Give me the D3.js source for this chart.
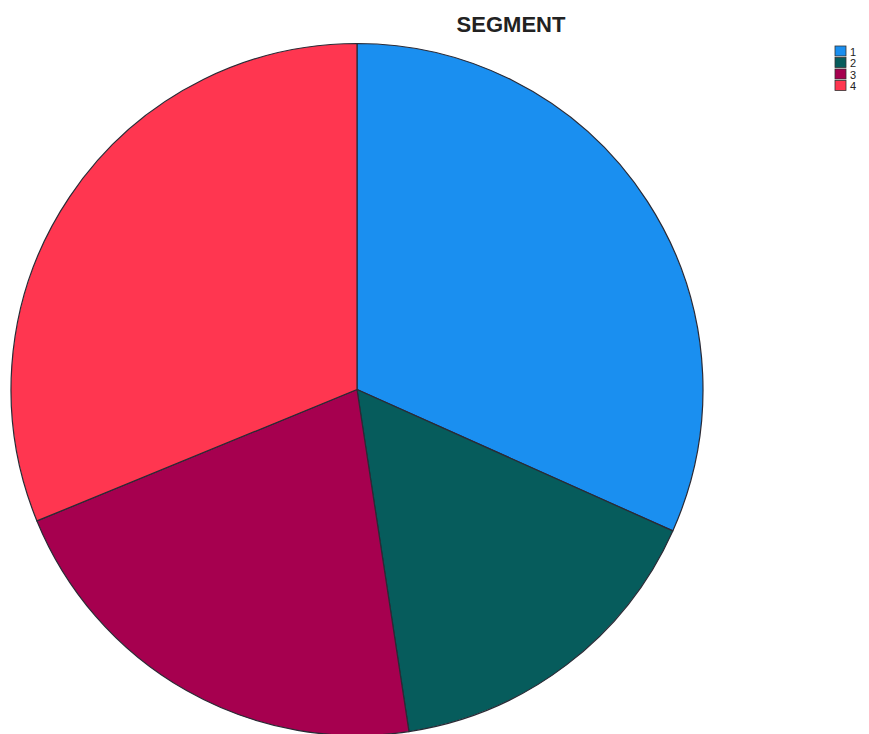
<!DOCTYPE html>
<html>
<head>
<meta charset="utf-8">
<script src="https://cdn.jsdelivr.net/npm/d3@7/dist/d3.min.js"></script>
<style>
  html, body { margin: 0; padding: 0; background: #fff; }
  svg { display: block; }
</style>
</head>
<body>
<svg id="chart" width="869" height="734"></svg>
<script>
// Segment shares (percent)
const categories = ["1", "2", "3", "4"];
const values = [31.7, 15.9, 21.2, 31.2];
const colors = ["#1a8ff0", "#065c5c", "#a6004f", "#ff3650"];

const svg = d3.select("#chart");
const cx = 357, cy = 389.5, radius = 346;

const data = categories.map((c, i) => ({ cat: c, value: values[i] }));

const pie = d3.pie().value(d => d.value).sort(null);
const arc = d3.arc().innerRadius(0).outerRadius(radius);
const color = d3.scaleOrdinal().domain(categories).range(colors);

svg.append("g")
  .attr("transform", `translate(${cx},${cy})`)
  .selectAll("path")
  .data(pie(data))
  .join("path")
  .attr("d", arc)
  .attr("fill", d => color(d.data.cat))
  .attr("stroke", "#2a2a35")
  .attr("stroke-width", 1.2)
  .attr("stroke-linejoin", "round");

// Title
svg.append("text")
  .attr("x", 511)
  .attr("y", 32)
  .attr("text-anchor", "middle")
  .attr("font-family", "Arial, 'Liberation Sans', sans-serif")
  .attr("font-weight", "bold")
  .attr("font-size", 22)
  .attr("fill", "#222")
  .text("SEGMENT");

// Legend
const legend = svg.append("g").attr("transform", "translate(835,46)");
const item = legend.selectAll("g")
  .data(categories)
  .join("g")
  .attr("transform", (d, i) => `translate(0,${i * 11.5})`);
item.append("rect")
  .attr("width", 11)
  .attr("height", 10)
  .attr("fill", d => color(d))
  .attr("stroke", "#333")
  .attr("stroke-width", 0.8);
item.append("text")
  .attr("x", 15)
  .attr("y", 9.5)
  .attr("font-family", "Arial, 'Liberation Sans', sans-serif")
  .attr("font-size", 11)
  .attr("fill", "#222")
  .text(d => d);
</script>
</body>
</html>
